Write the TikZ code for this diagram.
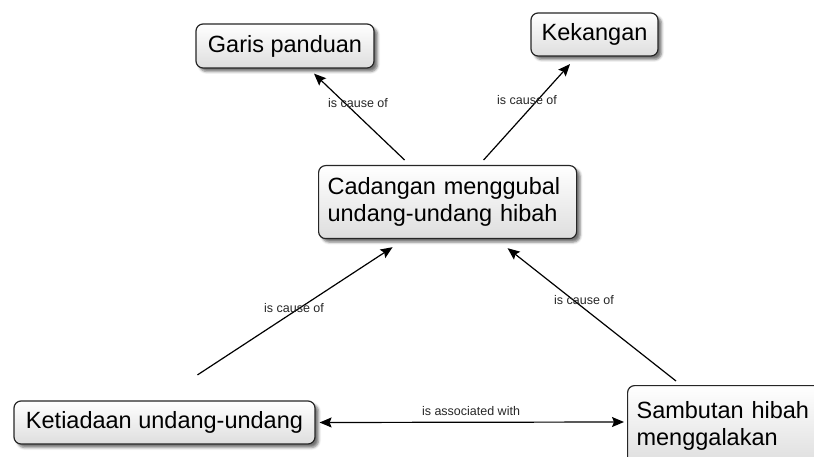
\documentclass[tikz,border=0pt]{standalone}
\usepackage{fontspec}
\setmainfont{Liberation Sans}
\usetikzlibrary{arrows.meta,shadows.blur}
\begin{document}
\begin{tikzpicture}[x=1pt,y=-1pt,
  concept/.style={draw=black!85, line width=1.2pt, rounded corners=7pt,
    top color=white, bottom color=black!13,
    blur shadow={shadow xshift=3.5pt, shadow yshift=-3.5pt, shadow blur radius=2.5pt, shadow opacity=55},
    font=\fontsize{23.5}{27}\selectfont, inner xsep=9pt, inner ysep=4pt},
  lbl/.style={font=\fontsize{12.5}{14}\selectfont, text=black!85, inner sep=0pt},
  arr/.style={line width=1.2pt, -{Stealth[length=12pt,width=10pt,inset=2pt]}},
  darr/.style={line width=1.2pt, {Stealth[length=12pt,width=10pt,inset=2pt]}-{Stealth[length=12pt,width=10pt,inset=2pt]}}]
\useasboundingbox (0,0) rectangle (814,457);

% concepts
\node[concept, minimum width=178pt, minimum height=44pt] (garis) at (285,46) {Garis panduan};
\node[concept, minimum width=127pt, minimum height=43pt] (kekangan) at (594.5,34.5) {Kekangan};
\node[concept, anchor=north west, text width=240pt, align=left, minimum height=73pt] (cadangan) at (318,165)
  {Cadangan menggubal\\undang-undang hibah};
\node[concept, minimum width=301pt, minimum height=43pt] (ketiadaan) at (164.5,422.5) {Ketiadaan undang-undang};
\node[concept, anchor=north west, text width=182pt, align=left, minimum height=80pt, inner ysep=6pt] (sambutan) at (627,385)
  {Sambutan hibah\\menggalakan};

% links
\draw[arr] ([shift={(-43,-5)}]cadangan.north) -- ([shift={(29,5)}]garis.south);
\draw[arr] ([shift={(36,-5)}]cadangan.north) -- ([shift={(-24.5,7.5)}]kekangan.south);
\draw[arr] ([shift={(33,-25.5)}]ketiadaan.north) -- ([shift={(-55,8)}]cadangan.south);
\draw[arr] ([shift={(49,-4)}]sambutan.north west) -- ([shift={(60,9)}]cadangan.south);
\draw[darr] ([xshift=4pt]ketiadaan.east) -- ([shift={(-3,37)}]sambutan.north west);

% link labels
\node[lbl] (l1) at (358,103) {is cause of};
\node[lbl] (l2) at (527,100) {is cause of};
\node[lbl] (l3) at (294,308) {is cause of};
\node[lbl] (l4) at (584,300) {is cause of};
\node[lbl] (l5) at (471,411) {is associated with};
\end{tikzpicture}
\end{document}
